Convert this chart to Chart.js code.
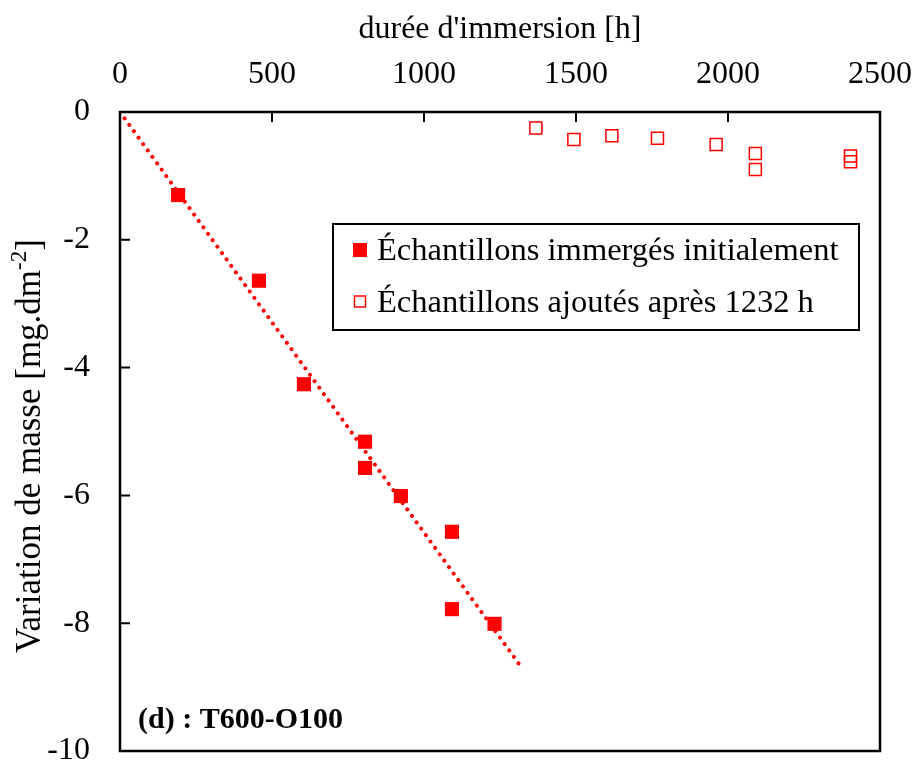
<!DOCTYPE html>
<html>
<head>
<meta charset="utf-8">
<script src="https://cdn.jsdelivr.net/npm/chart.js@4/dist/chart.umd.min.js"></script>
<style>
  html, body { margin: 0; padding: 0; background: #fff; }
  #wrap { width: 912px; height: 765px; }
</style>
</head>
<body>
<div id="wrap"><canvas id="massChart" width="912" height="765"></canvas></div>
<script>
// données
var initialHours = [191, 457, 605, 806, 806, 924, 1092, 1092, 1232];
var initialMass = [-1.30, -2.64, -4.26, -5.16, -5.57, -6.01, -6.57, -7.78, -8.01];
var addedHours = [1368, 1493, 1618, 1768, 1961, 2090, 2090, 2403, 2403];
var addedMass = [-0.25, -0.43, -0.37, -0.41, -0.51, -0.65, -0.90, -0.69, -0.78];
var trendHours = [0, 1325];
var trendMass = [0, -8.72];
var xTicks = [0, 500, 1000, 1500, 2000, 2500];
var yTicks = [0, -2, -4, -6, -8, -10];

var legendLabels = ["Échantillons immergés initialement", "Échantillons ajoutés après 1232 h"];
var panelLabel = "(d) : T600-O100";

var RED = "#ff0000";
var SERIF = "'Liberation Serif', 'Times New Roman', serif";

function toPoints(xs, ys) {
  return xs.map(function (x, i) { return { x: x, y: ys[i] }; });
}

// cadre, graduations internes, légende et titre de l'axe Y
var framePlugin = {
  id: "frame",
  afterDraw: function (chart) {
    var ctx = chart.ctx;
    var a = chart.chartArea;
    var sx = chart.scales.x;
    var sy = chart.scales.y;
    ctx.save();

    ctx.strokeStyle = "#000";
    ctx.lineWidth = 2.5;
    ctx.strokeRect(a.left, a.top, a.right - a.left, a.bottom - a.top);

    ctx.lineWidth = 2;
    ctx.beginPath();
    xTicks.slice(1, -1).forEach(function (v) {
      var px = sx.getPixelForValue(v);
      ctx.moveTo(px, a.top);
      ctx.lineTo(px, a.top + 10);
    });
    yTicks.slice(1, -1).forEach(function (v) {
      var py = sy.getPixelForValue(v);
      ctx.moveTo(a.left, py);
      ctx.lineTo(a.left + 10, py);
    });
    ctx.stroke();

    // légende
    ctx.fillStyle = "#fff";
    ctx.fillRect(333, 224, 526, 106);
    ctx.strokeStyle = "#000";
    ctx.lineWidth = 2;
    ctx.strokeRect(333, 224, 526, 106);

    ctx.fillStyle = RED;
    ctx.fillRect(353, 243, 14, 14);
    ctx.strokeStyle = RED;
    ctx.lineWidth = 1.5;
    ctx.strokeRect(354.5, 296, 11, 11);

    ctx.fillStyle = "#000";
    ctx.font = "32.5px " + SERIF;
    ctx.textBaseline = "middle";
    ctx.textAlign = "left";
    ctx.fillText(legendLabels[0], 377, 251);
    ctx.fillText(legendLabels[1], 377, 303);

    // étiquette du panneau
    ctx.font = "bold 30px " + SERIF;
    ctx.fillText(panelLabel, 138, 720);

    // titre de l'axe Y avec exposant
    ctx.translate(28, 446);
    ctx.rotate(-Math.PI / 2);
    var main = "Variation de masse [mg.dm";
    var sup = "-2";
    var end = "]";
    ctx.font = "35px " + SERIF;
    var w1 = ctx.measureText(main).width;
    var w3 = ctx.measureText(end).width;
    ctx.font = "23px " + SERIF;
    var w2 = ctx.measureText(sup).width;
    var x0 = -(w1 + w2 + w3) / 2;
    ctx.textBaseline = "alphabetic";
    ctx.font = "35px " + SERIF;
    ctx.fillText(main, x0, 12);
    ctx.font = "23px " + SERIF;
    ctx.fillText(sup, x0 + w1, -2);
    ctx.font = "35px " + SERIF;
    ctx.fillText(end, x0 + w1 + w2, 12);

    ctx.restore();
  }
};

new Chart(document.getElementById("massChart").getContext("2d"), {
  type: "scatter",
  data: {
    datasets: [
      {
        label: legendLabels[0],
        data: toPoints(initialHours, initialMass),
        pointStyle: "rect",
        pointRadius: 10,
        backgroundColor: RED,
        borderColor: RED,
        borderWidth: 0,
        order: 1,
      },
      {
        label: legendLabels[1],
        data: toPoints(addedHours, addedMass),
        pointStyle: "rect",
        pointRadius: 8.5,
        backgroundColor: "rgba(0,0,0,0)",
        borderColor: RED,
        borderWidth: 1.5,
        order: 1,
      },
      {
        label: "tendance",
        data: toPoints(trendHours, trendMass),
        showLine: true,
        pointRadius: 0,
        borderColor: RED,
        borderWidth: 4,
        borderDash: [0.01, 7.9],
        borderCapStyle: "round",
        order: 2,
      },
    ],
  },
  options: {
    responsive: false,
    animation: false,
    layout: { padding: { left: 0, top: 0, right: 32, bottom: 14 } },
    plugins: {
      legend: { display: false },
      tooltip: { enabled: false },
    },
    scales: {
      x: {
        type: "linear",
        position: "top",
        min: 0,
        max: 2500,
        afterBuildTicks: function (scale) {
          scale.ticks = xTicks.map(function (v) { return { value: v }; });
        },
        afterFit: function (scale) {
          scale.height = 112;
          scale.paddingLeft = 0;
          scale.paddingRight = 0;
        },
        grid: { display: false, drawTicks: false },
        border: { display: false },
        ticks: {
          color: "#000",
          font: { family: SERIF, size: 32 },
          padding: 18,
          maxRotation: 0,
          callback: function (v) { return String(v); },
        },
        title: {
          display: true,
          text: "durée d'immersion [h]",
          color: "#000",
          font: { family: SERIF, size: 32 },
          padding: { top: 10, bottom: 0 },
        },
      },
      y: {
        type: "linear",
        min: -10,
        max: 0,
        afterBuildTicks: function (scale) {
          scale.ticks = yTicks.map(function (v) { return { value: v }; });
        },
        afterFit: function (scale) {
          scale.width = 120;
          scale.paddingTop = 0;
          scale.paddingBottom = 0;
        },
        grid: { display: false, drawTicks: false },
        border: { display: false },
        ticks: {
          color: "#000",
          font: { family: SERIF, size: 32 },
          padding: 30,
          callback: function (v) { return String(v); },
        },
      },
    },
  },
  plugins: [framePlugin],
});
</script>
</body>
</html>
